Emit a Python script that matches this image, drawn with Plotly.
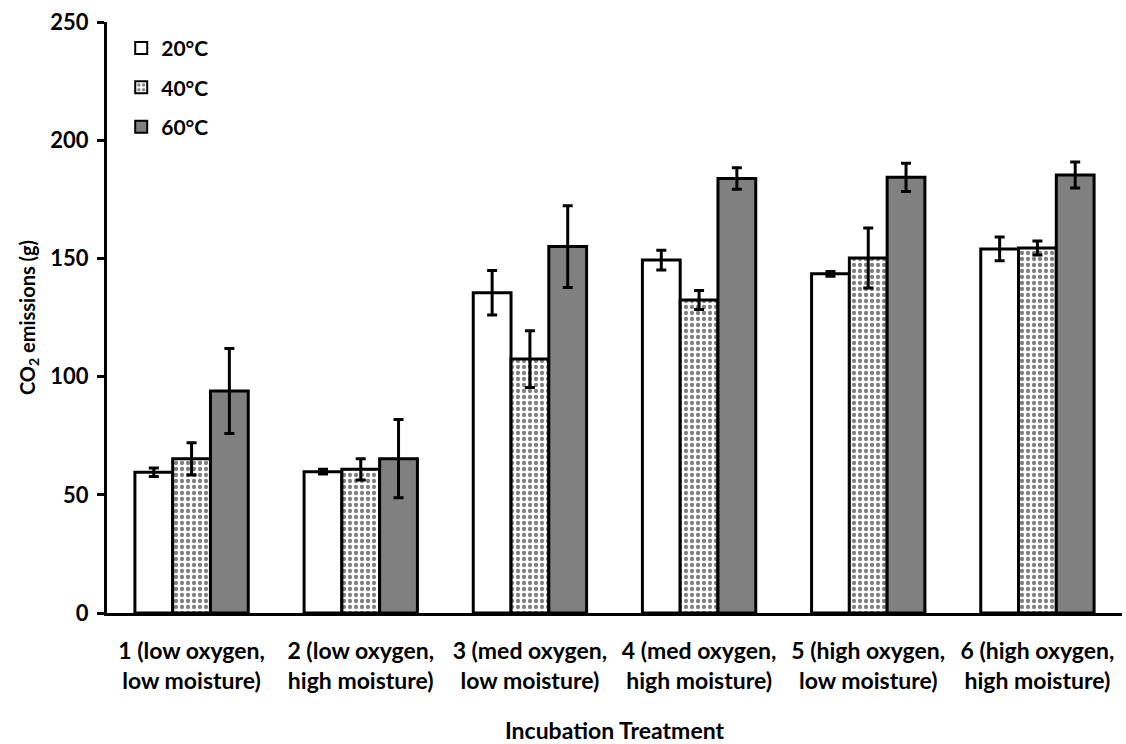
import plotly.graph_objects as go

categories = [
    "1 (low oxygen,<br>low moisture)",
    "2 (low oxygen,<br>high moisture)",
    "3 (med oxygen,<br>low moisture)",
    "4 (med oxygen,<br>high moisture)",
    "5 (high oxygen,<br>low moisture)",
    "6 (high oxygen,<br>high moisture)",
]
series_names = ["20°C", "40°C", "60°C"]
vals_20 = [59.5, 59.8, 135.5, 149.3, 143.5, 154.0]
err_20 = [1.8, 1.0, 9.4, 4.2, 1.0, 5.0]
vals_40 = [65.2, 60.8, 107.4, 132.4, 150.2, 154.4]
err_40 = [6.8, 4.5, 12.0, 4.0, 12.7, 3.0]
vals_60 = [93.9, 65.3, 155.0, 183.8, 184.3, 185.3]
err_60 = [18.0, 16.5, 17.3, 4.5, 6.0, 5.5]

FONT = "Lato, 'Open Sans', sans-serif"

fig = go.Figure()

styles = [
    dict(color="white", pattern=None),
    dict(color="white", pattern=dict(shape=".", fgcolor="black", bgcolor="white", size=6, solidity=0.4)),
    dict(color="#808080", pattern=None),
]

for i, (name, vals, errs, st) in enumerate(zip(series_names, [vals_20, vals_40, vals_60], [err_20, err_40, err_60], styles)):
    marker = dict(color=st["color"], line=dict(color="black", width=3))
    if st["pattern"]:
        marker["pattern"] = st["pattern"]
    fig.add_trace(go.Bar(
        x=categories, y=vals, name=name, marker=marker, legendgroup=f"g{i}",
        error_y=dict(type="data", array=errs, visible=True, color="black", thickness=3, width=5),
    ))

fig.update_layout(
    width=1126, height=744,
    margin=dict(l=107, r=4, t=22, b=131),
    paper_bgcolor="white", plot_bgcolor="white",
    barmode="group", bargap=0.33, bargroupgap=0,
    font=dict(family=FONT, size=18, color="black"),
    showlegend=True,
    legend=dict(x=0.014, y=0.99, xanchor="left", yanchor="top",
                font=dict(family=FONT, size=21, color="black", weight="bold"),
                bgcolor="rgba(0,0,0,0)", tracegroupgap=9, itemsizing="constant",
                itemwidth=30),
)
fig.update_yaxes(
    range=[0, 250], tickvals=[0, 50, 100, 150, 200, 250],
    showgrid=False, zeroline=False, automargin=False,
    showline=True, linecolor="black", linewidth=3,
    ticks="outside", ticklen=7, tickwidth=3, tickcolor="black",
    ticklabelstandoff=4,
    tickfont=dict(family=FONT, size=22, color="black", weight="bold"),
    title=dict(text="CO<sub>2</sub> emissions (g)", font=dict(family=FONT, size=20, color="black", weight="bold"), standoff=10),
)
fig.update_xaxes(
    showgrid=False, showline=True, linecolor="black", linewidth=3,
    ticks="", ticklabelstandoff=15, automargin=False,
    tickfont=dict(family=FONT, size=23, color="black", weight="bold"),
    title=dict(text="Incubation Treatment", font=dict(family=FONT, size=23, color="black", weight="bold"), standoff=34),
)

fig.write_html("out.html")
